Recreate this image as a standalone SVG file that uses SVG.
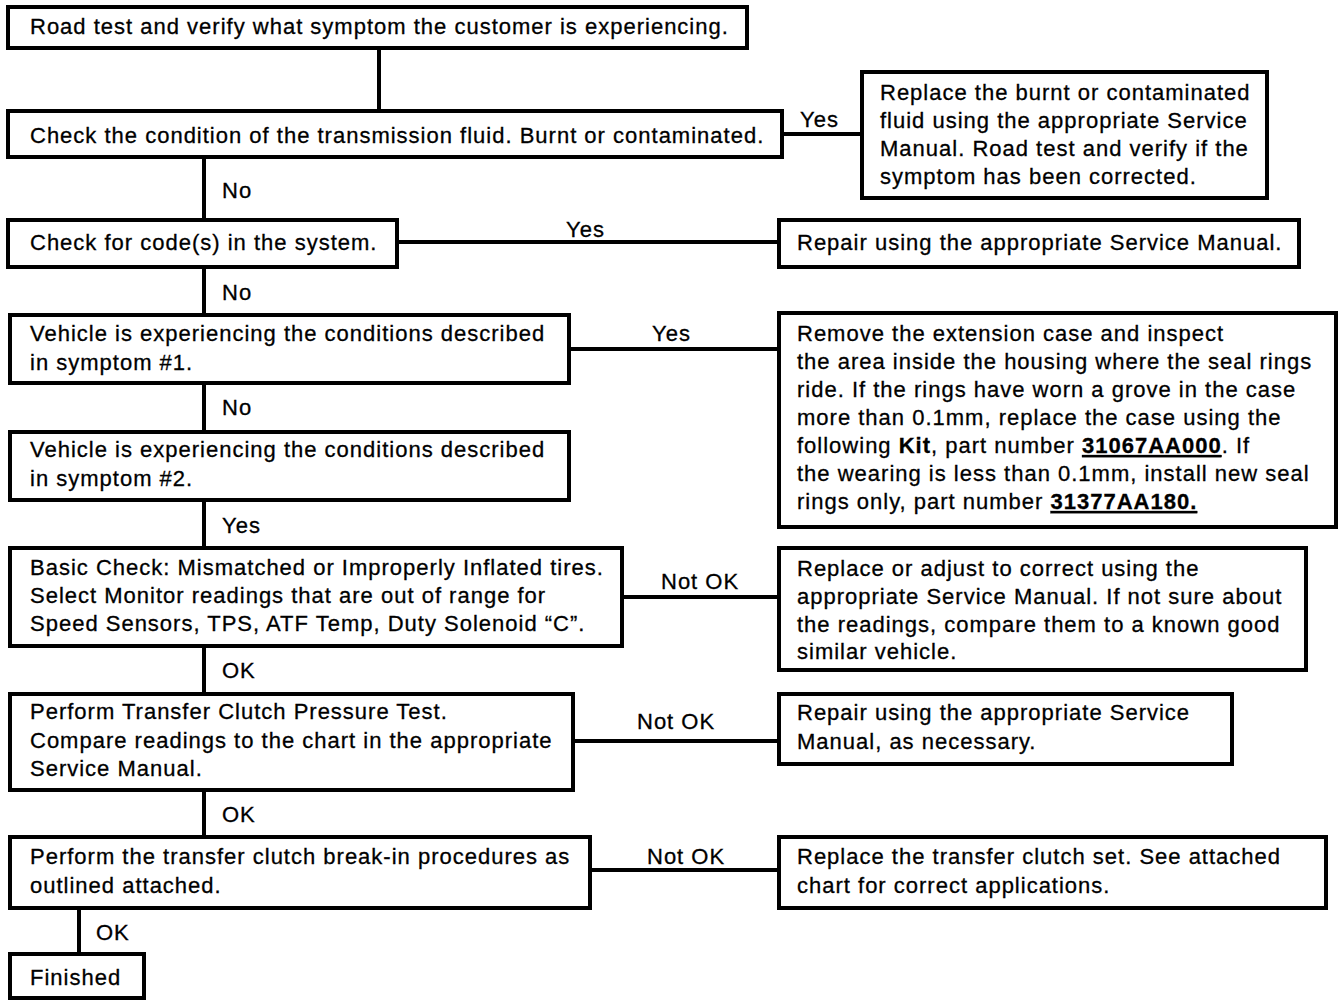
<svg xmlns="http://www.w3.org/2000/svg" width="1344" height="1006" viewBox="0 0 1344 1006">
<style>
.box{fill:#fff;stroke:#000;stroke-width:4}
.ln{stroke:#000;stroke-width:4;fill:none}
text{font-family:"Liberation Sans",Arial,sans-serif;font-size:22px;letter-spacing:1px;fill:#000;stroke:#000;stroke-width:0.3}
.b{font-weight:bold}
.u{font-weight:bold;text-decoration:underline}
</style>
<rect width="1344" height="1006" fill="#fff"/>
<g id="connectors">
<line class="ln" x1="379" y1="48" x2="379" y2="111"/>
<line class="ln" x1="782" y1="134" x2="862" y2="134"/>
<line class="ln" x1="204" y1="157" x2="204" y2="220"/>
<line class="ln" x1="397" y1="242" x2="779" y2="242"/>
<line class="ln" x1="204" y1="267" x2="204" y2="315"/>
<line class="ln" x1="569" y1="349" x2="779" y2="349"/>
<line class="ln" x1="204" y1="383" x2="204" y2="432"/>
<line class="ln" x1="204" y1="500" x2="204" y2="548"/>
<line class="ln" x1="622" y1="597" x2="779" y2="597"/>
<line class="ln" x1="204" y1="646" x2="204" y2="694"/>
<line class="ln" x1="573" y1="741" x2="779" y2="741"/>
<line class="ln" x1="204" y1="790" x2="204" y2="837"/>
<line class="ln" x1="590" y1="870" x2="779" y2="870"/>
<line class="ln" x1="79" y1="908" x2="79" y2="954"/>
<text x="800" y="127">Yes</text>
<text x="222" y="198">No</text>
<text x="566" y="237">Yes</text>
<text x="222" y="300">No</text>
<text x="652" y="341">Yes</text>
<text x="222" y="415">No</text>
<text x="222" y="533">Yes</text>
<text x="661" y="589">Not OK</text>
<text x="222" y="678">OK</text>
<text x="637" y="729">Not OK</text>
<text x="222" y="822">OK</text>
<text x="647" y="864">Not OK</text>
<text x="96" y="940">OK</text>
</g>
<g id="n1"><rect class="box" x="8" y="7" width="739" height="41"/><text x="30" y="34">Road test and verify what symptom the customer is experiencing.</text></g>
<g id="n2"><rect class="box" x="8" y="111" width="774" height="46"/><text x="30" y="143">Check the condition of the transmission fluid. Burnt or contaminated.</text></g>
<g id="n3"><rect class="box" x="862" y="72" width="405" height="126"/>
<text x="880" y="100">Replace the burnt or contaminated</text>
<text x="880" y="128">fluid using the appropriate Service</text>
<text x="880" y="156">Manual. Road test and verify if the</text>
<text x="880" y="184">symptom has been corrected.</text></g>
<g id="n4"><rect class="box" x="8" y="220" width="389" height="47"/><text x="30" y="250">Check for code(s) in the system.</text></g>
<g id="n5"><rect class="box" x="779" y="220" width="520" height="47"/><text x="797" y="250">Repair using the appropriate Service Manual.</text></g>
<g id="n6"><rect class="box" x="10" y="315" width="559" height="68"/>
<text x="30" y="341">Vehicle is experiencing the conditions described</text>
<text x="30" y="370">in symptom #1.</text></g>
<g id="n7"><rect class="box" x="779" y="313" width="557" height="214"/>
<text x="797" y="341">Remove the extension case and inspect</text>
<text x="797" y="369">the area inside the housing where the seal rings</text>
<text x="797" y="397">ride. If the rings have worn a grove in the case</text>
<text x="797" y="425">more than 0.1mm, replace the case using the</text>
<text x="797" y="453">following <tspan class="b">Kit</tspan>, part number <tspan class="u">31067AA000</tspan>. If</text>
<text x="797" y="481">the wearing is less than 0.1mm, install new seal</text>
<text x="797" y="509">rings only, part number <tspan class="u">31377AA180.</tspan></text></g>
<g id="n8"><rect class="box" x="10" y="432" width="559" height="68"/>
<text x="30" y="457">Vehicle is experiencing the conditions described</text>
<text x="30" y="486">in symptom #2.</text></g>
<g id="n9"><rect class="box" x="10" y="548" width="612" height="98"/>
<text x="30" y="575">Basic Check: Mismatched or Improperly Inflated tires.</text>
<text x="30" y="603">Select Monitor readings that are out of range for</text>
<text x="30" y="631">Speed Sensors, TPS, ATF Temp, Duty Solenoid “C”.</text></g>
<g id="n10"><rect class="box" x="779" y="548" width="527" height="122"/>
<text x="797" y="576">Replace or adjust to correct using the</text>
<text x="797" y="604">appropriate Service Manual. If not sure about</text>
<text x="797" y="632">the readings, compare them to a known good</text>
<text x="797" y="659">similar vehicle.</text></g>
<g id="n11"><rect class="box" x="10" y="694" width="563" height="96"/>
<text x="30" y="719">Perform Transfer Clutch Pressure Test.</text>
<text x="30" y="748">Compare readings to the chart in the appropriate</text>
<text x="30" y="776">Service Manual.</text></g>
<g id="n12"><rect class="box" x="779" y="694" width="453" height="70"/>
<text x="797" y="720">Repair using the appropriate Service</text>
<text x="797" y="749">Manual, as necessary.</text></g>
<g id="n13"><rect class="box" x="10" y="837" width="580" height="71"/>
<text x="30" y="864">Perform the transfer clutch break-in procedures as</text>
<text x="30" y="893">outlined attached.</text></g>
<g id="n14"><rect class="box" x="779" y="837" width="547" height="71"/>
<text x="797" y="864">Replace the transfer clutch set. See attached</text>
<text x="797" y="893">chart for correct applications.</text></g>
<g id="n15"><rect class="box" x="10" y="954" width="134" height="44"/><text x="30" y="985">Finished</text></g>
</svg>
